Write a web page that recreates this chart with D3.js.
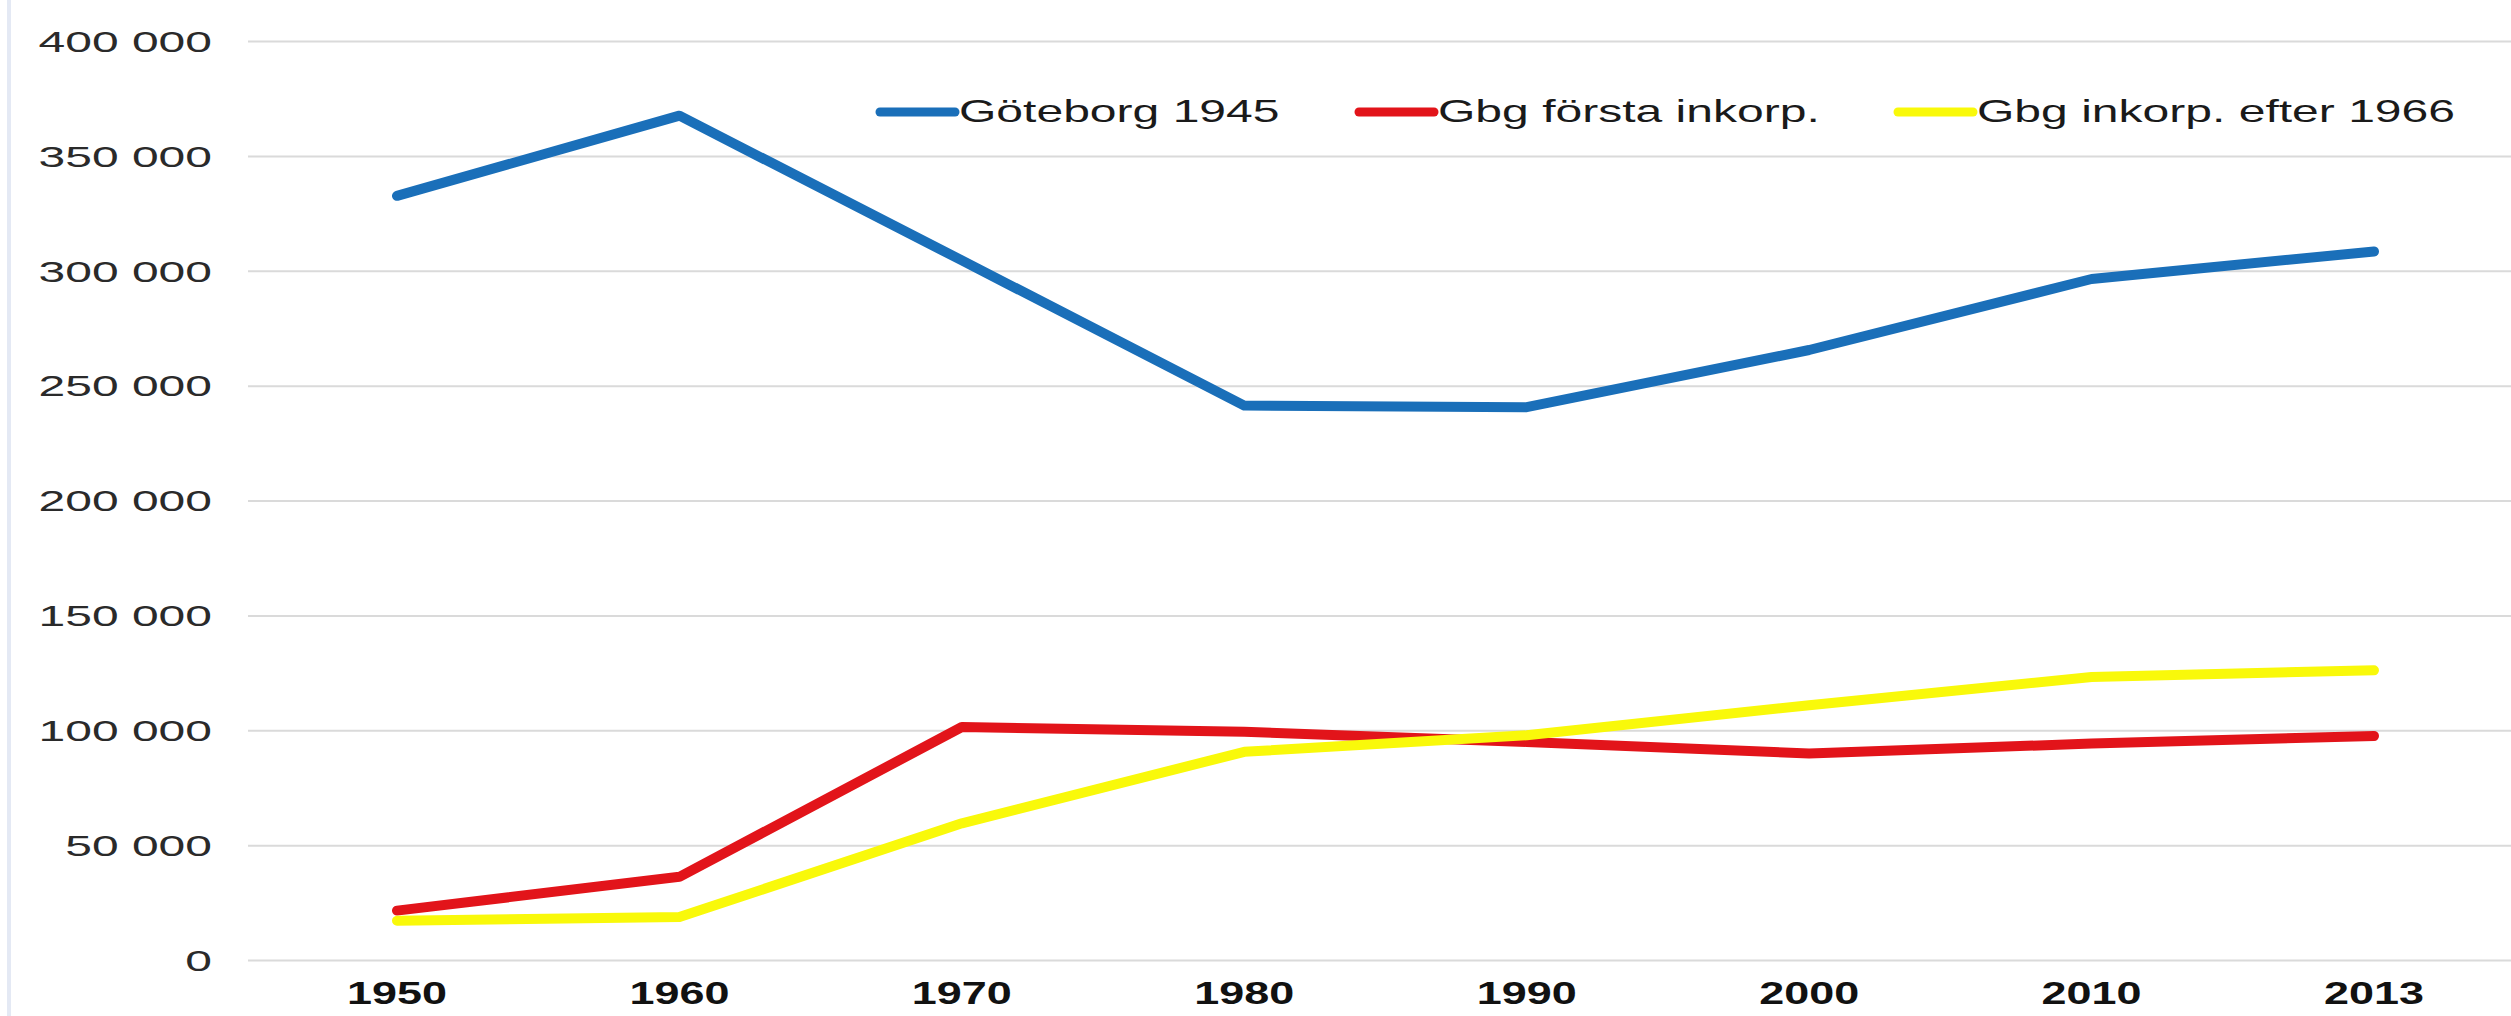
<!DOCTYPE html>
<html lang="sv">
<head>
  <meta charset="UTF-8">
  <title>Göteborg befolkning</title>
  <script src="https://d3js.org/d3.v7.min.js"></script>
  <style>
    body { margin: 0; background: #fff; }
    svg { display: block; }
  </style>
</head>
<body>
  <svg id="chart" width="2511" height="1016"></svg>

  <script>
    const years = ["1950", "1960", "1970", "1980", "1990", "2000", "2010", "2013"]
    const goteborg1945 = [332600, 367500, 304500, 241300, 240600, 265500, 296400, 308400]
    const gbgForsta = [21500, 36200, 101400, 99300, 94900, 89900, 94200, 97500]
    const gbgEfter1966 = [17100, 18700, 59500, 90600, 97800, 110900, 123200, 126100]
    const seriesNames = ["Göteborg 1945", "Gbg första inkorp.", "Gbg inkorp. efter 1966"]
    const yTicks = [0, 50000, 100000, 150000, 200000, 250000, 300000, 350000, 400000]

    const colors = ["#1a6fb9", "#e2141a", "#f9f90a"]
    const series = [goteborg1945, gbgForsta, gbgEfter1966].map((values, i) => {
      return { name: seriesNames[i], color: colors[i], values: values }
    })

    // the picture is stretched sideways, so text is too
    const stretch = 1.55

    const svg = d3.select("#chart")

    const x = d3.scalePoint()
      .domain(years)
      .range([397, 2374])

    const y = d3.scaleLinear()
      .domain([0, 400000])
      .range([960, 41])

    const fmt = d3.formatLocale({ thousands: " ", grouping: [3], decimal: ",", currency: ["", ""] }).format(",d")

    svg.append("line")
      .attr("x1", 9).attr("x2", 9)
      .attr("y1", 0).attr("y2", 1016)
      .attr("stroke", "#e4e9f4")
      .attr("stroke-width", 4)

    // gridlines
    svg.append("g")
      .attr("transform", "translate(248,0)")
      .call(d3.axisLeft(y).tickValues(yTicks).tickSize(-2300).tickFormat(""))
      .call(g => g.select(".domain").remove())
      .call(g => g.selectAll(".tick line").attr("stroke", "#dadada").attr("stroke-width", 2))

    svg.append("g")
      .selectAll("text")
      .data(yTicks)
      .join("text")
      .attr("transform", d => "translate(212," + y(d) + ") scale(1.6,1)")
      .attr("dy", "0.36em")
      .attr("text-anchor", "end")
      .attr("font-family", "Liberation Sans, Arial, sans-serif")
      .attr("font-size", "30px")
      .attr("fill", "#2a2a2a")
      .text(d => fmt(d))

    svg.append("g")
      .selectAll("text")
      .data(years)
      .join("text")
      .attr("transform", d => "translate(" + x(d) + ",1004) scale(1.45,1)")
      .attr("text-anchor", "middle")
      .attr("font-family", "Liberation Sans, Arial, sans-serif")
      .attr("font-weight", "bold")
      .attr("font-size", "31px")
      .attr("fill", "#111")
      .text(d => d)

    const line = d3.line()
      .x((d, i) => x(years[i]))
      .y(d => y(d))

    svg.append("g")
      .selectAll("path")
      .data(series)
      .join("path")
      .attr("fill", "none")
      .attr("stroke", d => d.color)
      .attr("stroke-width", 10)
      .attr("stroke-linejoin", "round")
      .attr("stroke-linecap", "round")
      .attr("d", d => line(d.values))

    // legend
    const legendX = [880, 1359, 1898]
    const legend = svg.append("g")
      .selectAll("g")
      .data(series)
      .join("g")
      .attr("transform", (d, i) => "translate(" + legendX[i] + ",112)")

    legend.append("line")
      .attr("x1", 0).attr("x2", 75)
      .attr("y1", 0).attr("y2", 0)
      .attr("stroke", d => d.color)
      .attr("stroke-width", 9)
      .attr("stroke-linecap", "round")

    legend.append("text")
      .attr("transform", "translate(79,10) scale(" + stretch + ",1)")
      .attr("font-family", "Liberation Sans, Arial, sans-serif")
      .attr("font-size", "31px")
      .attr("fill", "#1a1a1a")
      .text(d => d.name)
  </script>
</body>
</html>
